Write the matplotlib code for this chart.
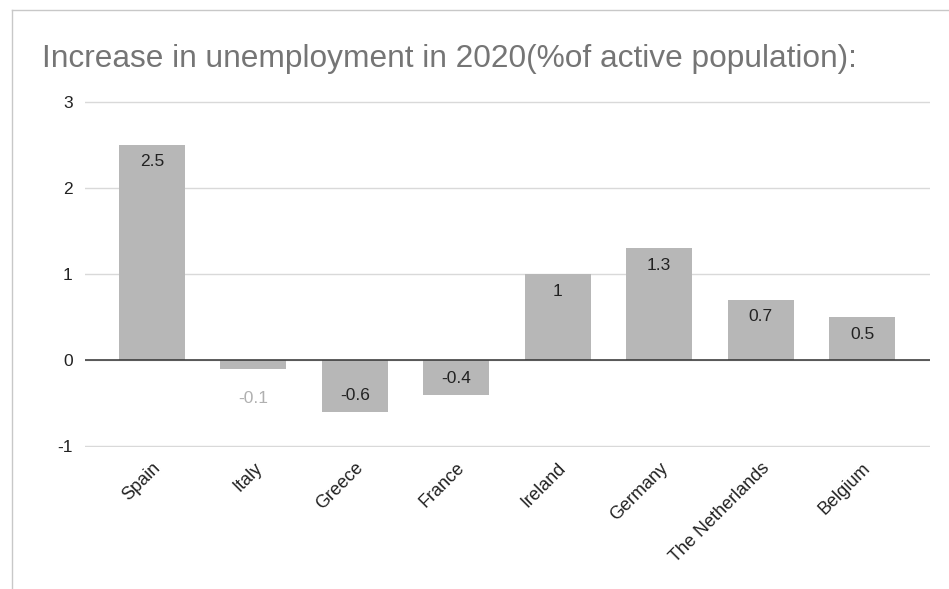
import matplotlib
matplotlib.use("Agg")
import matplotlib.pyplot as plt
from matplotlib.lines import Line2D

countries = ["Spain", "Italy", "Greece", "France", "Ireland", "Germany",
             "The Netherlands", "Belgium"]
increase = [2.5, -0.1, -0.6, -0.4, 1, 1.3, 0.7, 0.5]
label_text = ["2.5", "-0.1", "-0.6", "-0.4", "1", "1.3", "0.7", "0.5"]
y_ticks = [-1, 0, 1, 2, 3]

plt.rcParams['font.family'] = ['Liberation Sans', 'DejaVu Sans']

fig = plt.figure(figsize=(9.49, 5.89), dpi=100)
ax = fig.add_axes([0.0896, 0.241, 0.8904, 0.5875])

xs = list(range(len(countries)))
ax.bar(xs, increase, width=0.65, color="#b7b7b7", zorder=2)
ax.axhline(0, color="#333333", lw=1.1, zorder=3)

px = 72 / 100.0  # px -> points
for x, v, t in zip(xs, increase, label_text):
    if abs(v) < 0.2:
        # too short: label outside, light gray
        ax.annotate(t, (x, v), xytext=(0, -30 * px), textcoords="offset points",
                    ha="center", va="center", fontsize=12.5, color="#b0b0b0")
    else:
        off = -17 * px if v > 0 else 16 * px
        ax.annotate(t, (x, v), xytext=(0, off), textcoords="offset points",
                    ha="center", va="center", fontsize=12.5, color="#222222", zorder=4)

ax.set_ylim(-1.01, 3.01)
ax.set_xlim(-0.66, 7.67)
ax.set_yticks(y_ticks)
ax.set_yticklabels([str(t) for t in y_ticks], fontsize=12.5, color="#222222")
ax.yaxis.grid(True, color="#d9d9d9", lw=1, zorder=0)
ax.tick_params(axis="y", length=0, pad=9)
ax.tick_params(axis="x", length=0, pad=9)
ax.set_xticks(xs)
ax.set_xticklabels(countries, rotation=45, ha="right", rotation_mode="anchor",
                   fontsize=13, color="#222222")
for s in ax.spines.values():
    s.set_visible(False)

fig.text(42 / 949, 1 - 67 / 589, "Increase in unemployment in 2020(%of active population):",
         fontsize=22.8, color="#757575", ha="left", va="baseline")

# screenshot frame edges
fig.add_artist(Line2D([12 / 949, 12 / 949], [0, 1 - 10 / 589], color="#c8c8c8", lw=1))
fig.add_artist(Line2D([12 / 949, 1], [1 - 10 / 589, 1 - 10 / 589], color="#c8c8c8", lw=1))

fig.savefig("out.png", dpi=100)
